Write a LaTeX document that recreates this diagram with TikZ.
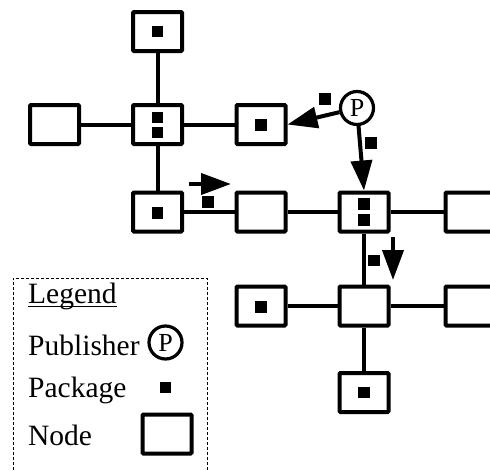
\documentclass[tikz,border=0pt]{standalone}
\usepackage{fontspec}
\setmainfont{Liberation Serif}
\usetikzlibrary{arrows.meta}
\begin{document}
\begin{tikzpicture}[x=1pt,y=-1pt,
  netbox/.style={draw, line width=4pt, minimum width=49pt, minimum height=39pt, inner sep=0pt, rounded corners=1pt},
  pkg/.style={fill=black, minimum size=11.5pt, inner sep=0pt},
  link/.style={line width=4pt},
  flow/.style={line width=4pt, -{Triangle[length=30pt,width=21pt]}},
  pub/.style={circle, draw, line width=3.2pt, minimum size=33pt, inner sep=0pt, font=\fontsize{26}{26}\selectfont},
  legtext/.style={anchor=base west, inner sep=0pt, font=\fontsize{29.5}{29.5}\selectfont}]
\useasboundingbox (0,0) rectangle (490,471);

% network nodes
\node[netbox] (top)  at (157.5,31.5) {};
\node[netbox] (w1)   at (54.5,124.5) {};
\node[netbox] (hub1) at (157.5,124.5) {};
\node[netbox] (e1)   at (261,124.5) {};
\node[netbox] (s1)   at (157.5,212) {};
\node[netbox] (m2)   at (261,212) {};
\node[netbox] (hub2) at (364,212) {};
\node[netbox] (e2)   at (470,212) {};
\node[netbox] (w3)   at (261,306) {};
\node[netbox] (hub3) at (364,306) {};
\node[netbox] (e3)   at (470,306) {};
\node[netbox] (bot)  at (364,392.5) {};

% links
\draw[link] (top) -- (hub1);
\draw[link] (w1) -- (hub1);
\draw[link] (hub1) -- (e1);
\draw[link] (hub1) -- (s1);
\draw[link] (s1) -- (m2);
\draw[link] (m2) -- (hub2);
\draw[link] (hub2) -- (e2);
\draw[link] (hub2) -- (hub3);
\draw[link] (w3) -- (hub3);
\draw[link] (hub3) -- (e3);
\draw[link] (hub3) -- (bot);

% packages held by nodes
\node[pkg] (ptop) at (157.5,31.5) {};
\node[pkg] (ph1a) at (157.5,117.5) {};
\node[pkg] (ph1b) at (157.5,132.5) {};
\node[pkg] (pe1)  at (261,125) {};
\node[pkg] (ps1)  at (157.5,213) {};
\node[pkg] (ph2a) at (364,204) {};
\node[pkg] (ph2b) at (364,220) {};
\node[pkg] (pw3)  at (261,307) {};
\node[pkg] (pbot) at (364,392.5) {};

% publisher and package transfers
\node[pub] (P) at (357,108) {P};
\draw[flow] (P) -- (e1.east);
\node[pkg] (t1) at (325,99) {};
\draw[flow] (P) -- (hub2.north);
\node[pkg] (t2) at (371,143) {};

\coordinate (fa) at (189,184);
\coordinate (fb) at (231,184);
\draw[flow] (fa) -- (fb);
\node[pkg] (t3) at (208,202) {};

\coordinate (ga) at (393,237);
\coordinate (gb) at (393,280);
\draw[flow] (ga) -- (gb);
\node[pkg] (t4) at (374,260.5) {};

% legend
\draw[line width=0.8pt, dash pattern=on 3pt off 2pt] (13,500) -- (13,278) -- (207,278) -- (207,500);
\node[legtext] (lt) at (28,303) {Legend};
\draw[line width=1.2pt] ([yshift=-3.7pt]lt.base west) -- ([yshift=-3.7pt]lt.base east);
\node[legtext] (lp) at (28,355) {Publisher};
\node[pub] (lpc) at (165.5,342.5) {P};
\node[legtext] (lk) at (28,397) {Package};
\node[pkg] (lkp) at (165.5,387.5) {};
\node[legtext] (ln) at (28,445) {Node};
\node[netbox] (lnb) at (167,434) {};
\end{tikzpicture}
\end{document}
